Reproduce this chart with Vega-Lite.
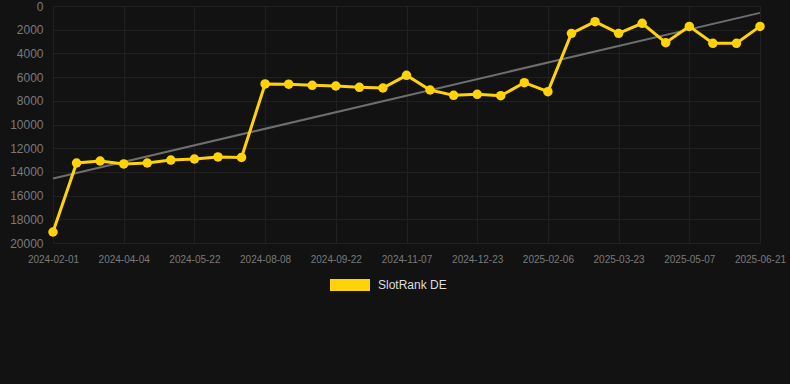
{
  "$schema": "https://vega.github.io/schema/vega-lite/v6.json",
  "width": 707,
  "height": 237,
  "autosize": {"type": "none"},
  "padding": {"left": 53, "top": 6, "right": 30, "bottom": 141},
  "background": "#121212",
  "config": {
    "view": {"stroke": null},
    "font": "Liberation Sans",
    "axis": {"domain": false, "ticks": false, "grid": true, "gridColor": "#202020", "gridWidth": 1, "labelColor": "#7a7a7a", "labelFont": "Liberation Sans"}
  },
  "datasets": {
    "rank": [
      {"date": "2024-02-01", "rank": 19070},
      {"date": "2024-02-22", "rank": 13250},
      {"date": "2024-03-14", "rank": 13080},
      {"date": "2024-04-04", "rank": 13330},
      {"date": "2024-04-20", "rank": 13250},
      {"date": "2024-05-06", "rank": 13000},
      {"date": "2024-05-22", "rank": 12910},
      {"date": "2024-06-18", "rank": 12740},
      {"date": "2024-07-13", "rank": 12780},
      {"date": "2024-08-08", "rank": 6580},
      {"date": "2024-08-23", "rank": 6600},
      {"date": "2024-09-07", "rank": 6690},
      {"date": "2024-09-22", "rank": 6750},
      {"date": "2024-10-08", "rank": 6860},
      {"date": "2024-10-23", "rank": 6920},
      {"date": "2024-11-07", "rank": 5850},
      {"date": "2024-11-22", "rank": 7090},
      {"date": "2024-12-08", "rank": 7540},
      {"date": "2024-12-23", "rank": 7450},
      {"date": "2025-01-07", "rank": 7570},
      {"date": "2025-01-22", "rank": 6470},
      {"date": "2025-02-06", "rank": 7230},
      {"date": "2025-02-21", "rank": 2310},
      {"date": "2025-03-08", "rank": 1320},
      {"date": "2025-03-23", "rank": 2310},
      {"date": "2025-04-07", "rank": 1460},
      {"date": "2025-04-22", "rank": 3100},
      {"date": "2025-05-07", "rank": 1720},
      {"date": "2025-05-22", "rank": 3150},
      {"date": "2025-06-06", "rank": 3150},
      {"date": "2025-06-21", "rank": 1720}
    ],
    "trend": [
      {"date": "2024-02-01", "rank": 14550},
      {"date": "2025-06-21", "rank": 580}
    ]
  },
  "encoding": {
    "x": {
      "field": "date", "type": "ordinal",
      "scale": {"type": "point", "padding": 0},
      "axis": {
        "title": null, "labelAngle": 0, "labelFontSize": 10, "labelPadding": 11, "grid": true,
        "values": ["2024-02-01","2024-04-04","2024-05-22","2024-08-08","2024-09-22","2024-11-07","2024-12-23","2025-02-06","2025-03-23","2025-05-07","2025-06-21"]
      }
    },
    "y": {
      "field": "rank", "type": "quantitative",
      "scale": {"domain": [0, 20000], "reverse": true, "nice": false},
      "axis": {"title": null, "format": "d", "labelFontSize": 12, "labelPadding": 10, "values": [0,2000,4000,6000,8000,10000,12000,14000,16000,18000,20000]}
    }
  },
  "layer": [
    {
      "data": {"name": "trend"},
      "mark": {"type": "line", "color": "#6e6e6e", "strokeWidth": 2}
    },
    {
      "data": {"name": "rank"},
      "mark": {"type": "line", "strokeWidth": 3, "point": {"size": 90, "filled": true, "opacity": 1}},
      "encoding": {
        "color": {
          "datum": "SlotRank DE",
          "scale": {"range": ["#FFD20A"]},
          "legend": {
            "title": null, "orient": "none", "legendX": 277, "legendY": 259,
            "symbolType": "M-1,-0.3H1V0.3H-1Z", "symbolSize": 1600, "symbolStrokeWidth": 0,
            "labelColor": "#dddddd", "labelFontSize": 12, "labelFont": "Liberation Sans", "labelOffset": 8
          }
        }
      }
    }
  ]
}
